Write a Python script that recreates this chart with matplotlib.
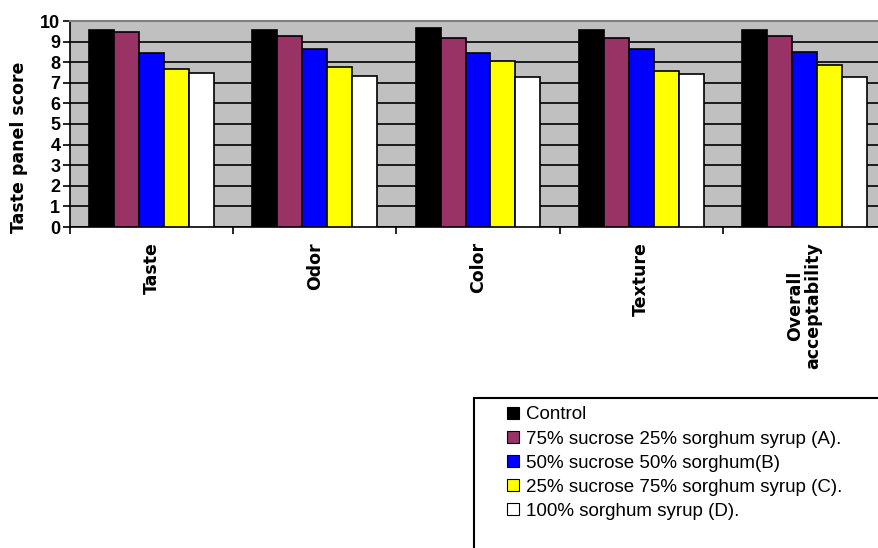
import numpy as np
import matplotlib.pyplot as plt
from matplotlib.patches import Patch, Rectangle

plt.rcParams['font.family'] = ['Liberation Sans', 'DejaVu Sans']

attributes = ["Taste", "Odor", "Color", "Texture", "Overall\nacceptability"]
treatments = [
    "Control",
    "75% sucrose 25% sorghum syrup (A).",
    "50% sucrose 50% sorghum(B)",
    "25% sucrose 75% sorghum syrup (C).",
    "100% sorghum syrup (D).",
]
colors = ["#000000", "#993366", "#0000FF", "#FFFF00", "#FFFFFF"]

control = [9.56, 9.56, 9.66, 9.56, 9.56]
syrup_a = [9.45, 9.27, 9.16, 9.16, 9.26]
syrup_b = [8.46, 8.63, 8.43, 8.63, 8.51]
syrup_c = [7.69, 7.78, 8.04, 7.59, 7.86]
syrup_d = [7.50, 7.31, 7.30, 7.41, 7.30]
series = [control, syrup_a, syrup_b, syrup_c, syrup_d]

W, H = 879, 548
fig = plt.figure(figsize=(W / 100, H / 100), dpi=100)
# plot area runs a little past the right edge of the figure
x0, x1, y0, y1 = 70, 886, 21, 227
ax = fig.add_axes([x0 / W, 1 - y1 / H, (x1 - x0) / W, (y1 - y0) / H])
ax.set_facecolor("#C0C0C0")

x = np.arange(len(attributes))
bw = 0.153
for i, (vals, c) in enumerate(zip(series, colors)):
    ax.bar(x + (i - 2) * bw, vals, bw, color=c, edgecolor="black", lw=1.2, zorder=3)

ax.set_xlim(-0.5, len(attributes) - 0.5)
ax.set_ylim(0, 10)
ax.set_yticks(range(11))
ax.yaxis.grid(True, color="black", lw=1.2, zorder=0)
ax.set_axisbelow(True)
ax.tick_params(axis="y", direction="out", length=5, width=1.2, labelsize=13, pad=2)
for t in ax.get_yticklabels():
    t.set_fontweight("bold")

ax.set_xticks(x)
ax.set_xticklabels(attributes, rotation=90, fontsize=12.5, fontweight="bold",
                   family="DejaVu Sans", va="top", ha="center",
                   multialignment="center", linespacing=1.0)
ax.tick_params(axis="x", which="major", length=0, pad=11)
ax.set_xticks(np.arange(len(attributes) + 1) - 0.5, minor=True)
ax.tick_params(axis="x", which="minor", direction="out", length=5, width=1.2)

ax.spines["top"].set_color("#808080")
ax.spines["top"].set_linewidth(1.5)
ax.spines["right"].set_visible(False)
ax.spines["left"].set_linewidth(1.2)
ax.spines["bottom"].set_linewidth(1.2)

ax.set_ylabel("Taste panel score", fontsize=12.5, fontweight="bold",
              family="DejaVu Sans", va="center")
ax.yaxis.set_label_coords((19 - x0) / (x1 - x0), (y1 - 147) / (y1 - y0))

# legend frame continues past the bottom-right corner
fig.add_artist(Rectangle((474 / W, -0.05), 0.5, 1 - 398 / H + 0.05,
                         transform=fig.transFigure, fill=False,
                         edgecolor="black", lw=1.5))
handles = [Patch(facecolor=c, edgecolor="black", lw=0.8) for c in colors]
fig.legend(handles, treatments, loc="upper left",
           bbox_to_anchor=(498 / W, 1 - 397 / H), frameon=False,
           fontsize=13.5, handlelength=0.6, handleheight=0.6,
           handletextpad=0.4, labelspacing=0.38, borderpad=0)

fig.savefig("out.png", dpi=100)
